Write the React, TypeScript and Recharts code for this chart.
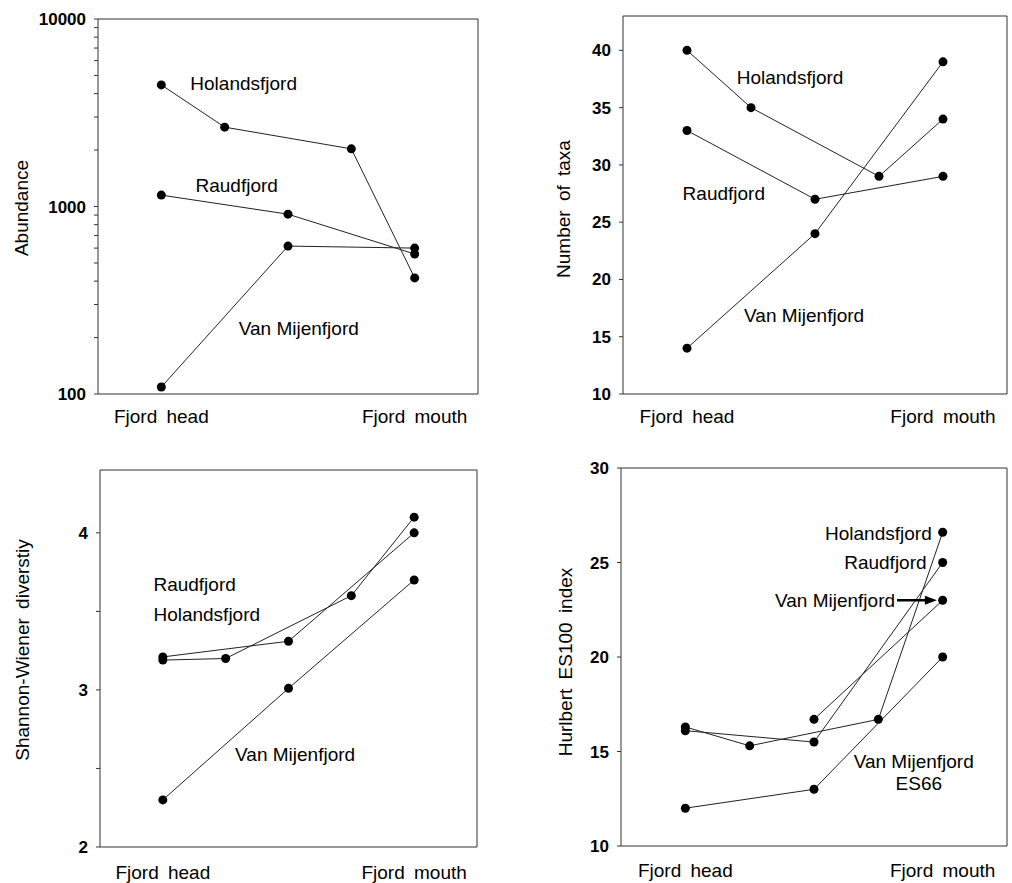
import React from "react";
import {
  LineChart,
  Line,
  XAxis,
  YAxis,
  ReferenceArea,
  ReferenceDot,
  ReferenceLine,
} from "recharts";

const FONT = '"Liberation Sans", Arial, Helvetica, sans-serif';

// stations along the fjord, head -> mouth
const stations = [1, 2, 3, 4, 5];
const xTicks = [1, 5];
const xTickLabels = ["Fjord head", "Fjord mouth"];

// abundance (log axis)
const abundanceHolandsfjord = [4450, 2650, null, 2030, 416];
const abundanceRaudfjord = [1150, null, 910, null, 558];
const abundanceVanMijenfjord = [109, null, 615, null, 600];
const abundanceTicks = [
  100, 200, 300, 400, 500, 600, 700, 800, 900, 1000, 2000, 3000, 4000, 5000,
  6000, 7000, 8000, 9000, 10000,
];
const abundanceLabels = [100, 1000, 10000];

// number of taxa
const taxaHolandsfjord = [40, 35, null, 29, 34];
const taxaRaudfjord = [33, null, 27, null, 29];
const taxaVanMijenfjord = [14, null, 24, null, 39];
const taxaTicks = [10, 15, 20, 25, 30, 35, 40];

// Shannon-Wiener
const shannonHolandsfjord = [3.19, 3.2, null, 3.6, 4.1];
const shannonRaudfjord = [3.21, null, 3.31, null, 4.0];
const shannonVanMijenfjord = [2.3, null, 3.01, null, 3.7];
const shannonTicks = [2, 2.5, 3, 3.5, 4];

// Hurlbert ES100 (and ES66 for Van Mijenfjord)
const hurlbertHolandsfjord = [16.3, 15.3, null, 16.7, 26.6];
const hurlbertRaudfjord = [16.1, null, 15.5, null, 25.0];
const hurlbertVanMijenfjord = [null, null, 16.7, null, 23.0];
const hurlbertVanMijenfjordES66 = [12.0, null, 13.0, null, 20.0];
const hurlbertTicks = [10, 15, 20, 25, 30];

type Val = number | null;

const rows = (series: Record<string, Val[]>) =>
  stations.map((st, i) => {
    const r: Record<string, Val> = { st };
    Object.keys(series).forEach((k) => (r[k] = series[k][i]));
    return r;
  });

type Note = { text: string; x: number; y: number; anchor: "start" | "middle" | "end" };

const renderXTick = (p: any) => {
  const i = xTicks.indexOf(p.payload.value);
  return (
    <text
      x={p.x}
      y={p.y}
      dy="0.35em"
      textAnchor="middle"
      fontSize={19}
      fontFamily={FONT}
      fill="#000"
      style={{ wordSpacing: 4 }}
    >
      {xTickLabels[i]}
    </text>
  );
};

const noteShape = (n: Note) => (p: any) => (
  <text
    x={p.cx}
    y={p.cy}
    dy="0.35em"
    textAnchor={n.anchor}
    fontSize={19}
    fontFamily={FONT}
    fill="#000"
  >
    {n.text}
  </text>
);

function Panel(props: any) {
  const {
    left, top, width, height, box, data, keys, yScale, yDomain, yTicks,
    yTickFormat, title, titleAt, notes, xLabelOffset, children,
  } = props;
  const [x0, y0, x1, y1] = box;
  const yW = 60;
  const xH = 30;
  const margin = {
    top: y0 - top,
    right: left + width - x1,
    left: x0 - left - yW,
    bottom: top + height - y1 - xH,
  };
  return (
    <div style={{ position: "absolute", left, top }}>
      <LineChart width={width} height={height} data={data} margin={margin}>
        <XAxis
          dataKey="st"
          type="number"
          domain={[0, 6]}
          ticks={xTicks}
          allowDataOverflow
          height={xH}
          axisLine={false}
          tickLine={false}
          tickSize={0}
          tickMargin={xLabelOffset}
          interval={0}
          tick={renderXTick}
        />
        <YAxis
          type="number"
          scale={yScale}
          domain={yDomain}
          ticks={yTicks}
          allowDataOverflow
          width={yW}
          axisLine={false}
          tickSize={4}
          tickMargin={8}
          tickLine={{ stroke: "#333" }}
          interval={0}
          tickFormatter={yTickFormat}
          tick={{ fontSize: 17, fontWeight: "bold", fill: "#000", fontFamily: FONT }}
          label={{
            content: () => (
              <text
                x={titleAt[0]}
                y={titleAt[1]}
                dy="0.35em"
                transform={`rotate(-90 ${titleAt[0]} ${titleAt[1]})`}
                textAnchor="middle"
                fontSize={19}
                fontFamily={FONT}
                fill="#000"
                style={{ wordSpacing: 4 }}
              >
                {title}
              </text>
            ),
          }}
        />
        <ReferenceArea
          x1={0}
          x2={6}
          y1={yDomain[0]}
          y2={yDomain[1]}
          fill="none"
          stroke="#333"
          strokeWidth={1}
          ifOverflow="visible"
        />
        {keys.map((k: string) => (
          <Line
            key={k}
            dataKey={k}
            type="linear"
            stroke="#222"
            strokeWidth={1}
            dot={{ r: 4.5, fill: "#000", stroke: "#000", strokeWidth: 0 }}
            activeDot={false}
            connectNulls
            isAnimationActive={false}
          />
        ))}
        {notes.map((n: Note) => (
          <ReferenceDot
            key={n.text + n.y}
            x={n.x}
            y={n.y}
            r={0}
            ifOverflow="visible"
            shape={noteShape(n)}
          />
        ))}
        {children}
      </LineChart>
    </div>
  );
}

const arrowShape = (p: any) => {
  const { x1, y1, x2, y2 } = p;
  if (x1 == null) return null;
  return (
    <g>
      <line x1={x1} y1={y1} x2={x2 - 8} y2={y2} stroke="#000" strokeWidth={2.5} />
      <polygon points={`${x2},${y2} ${x2 - 12},${y2 - 4.5} ${x2 - 12},${y2 + 4.5}`} fill="#000" />
    </g>
  );
};

export default function App() {
  return (
    <div
      style={{
        position: "absolute",
        left: 0,
        top: 0,
        width: 1012,
        height: 883,
        background: "#fff",
        fontFamily: FONT,
      }}
    >
      <Panel
        left={0}
        top={0}
        width={500}
        height={440}
        box={[98, 19, 478, 394]}
        data={rows({
          hol: abundanceHolandsfjord,
          rau: abundanceRaudfjord,
          van: abundanceVanMijenfjord,
        })}
        keys={["hol", "rau", "van"]}
        yScale="log"
        yDomain={[100, 10000]}
        yTicks={abundanceTicks}
        yTickFormat={(v: number) => (abundanceLabels.includes(v) ? String(v) : "")}
        title="Abundance"
        titleAt={[21, 208]}
        xLabelOffset={22}
        notes={[
          { text: "Holandsfjord", x: 2.3, y: 4560, anchor: "middle" },
          { text: "Raudfjord", x: 2.19, y: 1303, anchor: "middle" },
          { text: "Van Mijenfjord", x: 3.17, y: 225, anchor: "middle" },
        ]}
      />
      <Panel
        left={500}
        top={0}
        width={512}
        height={440}
        box={[623, 16, 1007, 394]}
        data={rows({
          hol: taxaHolandsfjord,
          rau: taxaRaudfjord,
          van: taxaVanMijenfjord,
        })}
        keys={["hol", "rau", "van"]}
        yScale="linear"
        yDomain={[10, 43]}
        yTicks={taxaTicks}
        yTickFormat={(v: number) => String(v)}
        title="Number of taxa"
        titleAt={[63, 209]}
        xLabelOffset={22}
        notes={[
          { text: "Holandsfjord", x: 2.61, y: 37.65, anchor: "middle" },
          { text: "Raudfjord", x: 1.575, y: 27.54, anchor: "middle" },
          { text: "Van Mijenfjord", x: 2.83, y: 16.9, anchor: "middle" },
        ]}
      />
      <Panel
        left={0}
        top={440}
        width={500}
        height={443}
        box={[100, 470, 477, 847]}
        data={rows({
          hol: shannonHolandsfjord,
          rau: shannonRaudfjord,
          van: shannonVanMijenfjord,
        })}
        keys={["hol", "rau", "van"]}
        yScale="linear"
        yDomain={[2, 4.4]}
        yTicks={shannonTicks}
        yTickFormat={(v: number) => (Number.isInteger(v) ? String(v) : "")}
        title="Shannon-Wiener diverstiy"
        titleAt={[22, 210]}
        xLabelOffset={25}
        notes={[
          { text: "Raudfjord", x: 0.85, y: 3.67, anchor: "start" },
          { text: "Holandsfjord", x: 0.85, y: 3.48, anchor: "start" },
          { text: "Van Mijenfjord", x: 2.15, y: 2.59, anchor: "start" },
        ]}
      />
      <Panel
        left={500}
        top={440}
        width={512}
        height={443}
        box={[621, 468, 1007, 846]}
        data={rows({
          hol: hurlbertHolandsfjord,
          rau: hurlbertRaudfjord,
          van: hurlbertVanMijenfjord,
          van66: hurlbertVanMijenfjordES66,
        })}
        keys={["hol", "rau", "van", "van66"]}
        yScale="linear"
        yDomain={[10, 30]}
        yTicks={hurlbertTicks}
        yTickFormat={(v: number) => String(v)}
        title="Hurlbert ES100 index"
        titleAt={[65, 222]}
        xLabelOffset={24}
        notes={[
          { text: "Holandsfjord", x: 4.83, y: 26.56, anchor: "end" },
          { text: "Raudfjord", x: 4.75, y: 25.03, anchor: "end" },
          { text: "Van Mijenfjord", x: 4.26, y: 23.0, anchor: "end" },
          { text: "Van Mijenfjord", x: 4.55, y: 14.5, anchor: "middle" },
          { text: "ES66", x: 4.63, y: 13.32, anchor: "middle" },
        ]}
      >
        <ReferenceLine
          segment={[
            { x: 4.29, y: 23 },
            { x: 4.91, y: 23 },
          ]}
          ifOverflow="visible"
          shape={arrowShape}
        />
      </Panel>
    </div>
  );
}
